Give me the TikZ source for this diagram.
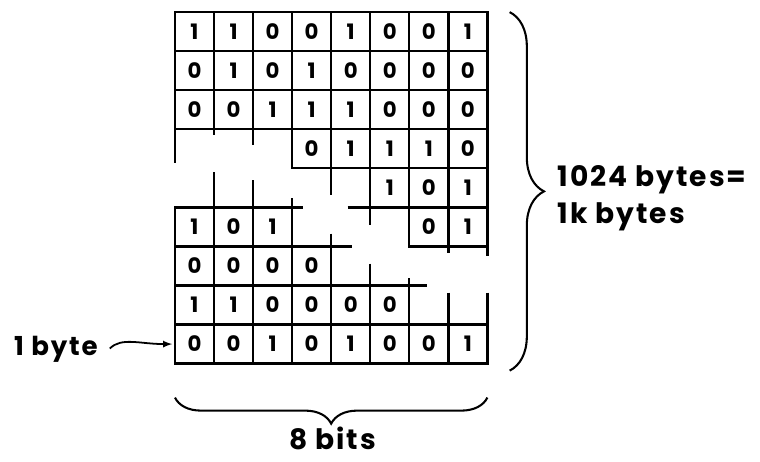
\documentclass[tikz,border=0pt]{standalone}
\usepackage{fontspec}
\setmainfont{Poppins}
\newfontfamily\lblfont[LetterSpace=7]{Poppins}
\usetikzlibrary{decorations.pathreplacing}

\begin{document}
\begin{tikzpicture}[line width=1.7pt,
		bit/.style={font=\fontsize{15.5}{18}\selectfont\bfseries, inner sep=0pt},
		lbl/.style={font=\lblfont\fontsize{20.5}{26}\selectfont\bfseries, inner sep=0pt, text depth=0pt},
		membrace/.style={decorate, decoration={brace, amplitude=#1}}]
	\useasboundingbox (-4.48,0.31) rectangle (14.98,-11.5);
	% row/{column/bit,...}
	\foreach \r/\bits in {%
		0/{0/1,1/1,2/0,3/0,4/1,5/0,6/0,7/1},%
		1/{0/0,1/1,2/0,3/1,4/0,5/0,6/0,7/0},%
		2/{0/0,1/0,2/1,3/1,4/1,5/0,6/0,7/0},%
		3/{3/0,4/1,5/1,6/1,7/0},%
		4/{5/1,6/0,7/1},%
		5/{0/1,1/0,2/1,6/0,7/1},%
		6/{0/0,1/0,2/0,3/0},%
		7/{0/1,1/1,2/0,3/0,4/0,5/0},%
		8/{0/0,1/0,2/1,3/0,4/1,5/0,6/0,7/1}}{
		\foreach \c/\v in \bits {
			\draw (\c,-\r) rectangle (\c+1,-\r-1);
			\node[bit] (b-\r-\c) at (\c+0.5,-\r-0.5) {\v};
		}
	}
	% loose rules in the gap
	\draw (0,-3) -- (0,-3.87) (1,-3) -- (1,-3.15) (2,-3) -- (2,-3.41);
	\draw (1,-4.1) -- (1,-5) (2,-4.31) -- (2,-5) (3,-4.77) -- (3,-5) (4,-4) -- (4,-4.69);
	\draw (5,-5) -- (5,-5.46) (3,-5) -- (3.27,-5) (4.42,-5) -- (5,-5);
	\draw (4,-5.67) -- (4,-6) -- (4.53,-6);
	\draw (7,-6) -- (7,-6.18) (8,-6) -- (8,-6.25);
	\draw (5,-6.44) -- (5,-7) (6,-6.82) -- (6,-7) -- (6.45,-7);
	\draw (7,-7.18) -- (7,-8) (8,-7.18) -- (8,-8);

	% braces and labels
	\draw[membrace=25pt, line width=1.5pt] (8.57,0) -- (8.57,-9.18);
	\draw[membrace=19pt, line width=1.5pt] (8,-9.87) -- (0,-9.87);
	\node[lbl, anchor=base west] (total) at (9.77,-4.46) {1024 bytes=};
	\node[lbl, anchor=base west] (kilo) at (9.77,-5.4) {1k bytes};
	\node[lbl, anchor=base] (bits) at (4.04,-11.2) {8 bits};
	\node[lbl, anchor=base east, font=\lblfont\fontsize{19}{24}\selectfont\bfseries] (byte) at (-1.95,-8.79) {1 byte};

	\coordinate (row8) at (0,-8.5);
	\draw[-latex, line width=1.3pt, shorten >=2pt]
		([xshift=8pt,yshift=5pt]byte.base east) .. controls +(0.3,0.3) and +(-0.9,0) .. (row8);
\end{tikzpicture}
\end{document}
